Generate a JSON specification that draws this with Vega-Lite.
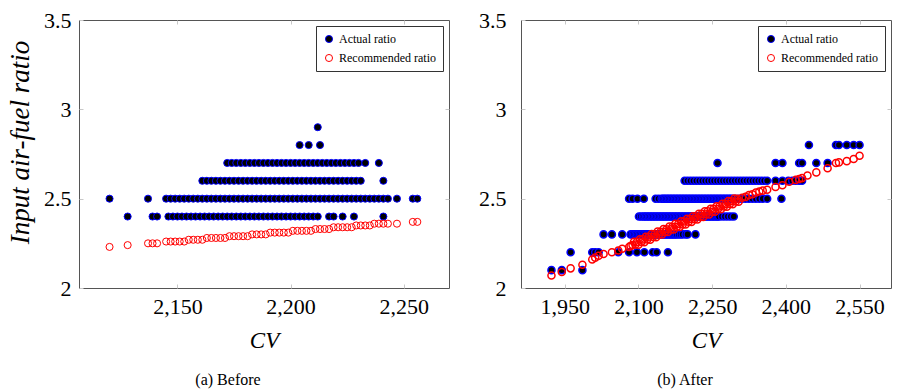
{
"$schema": "https://vega.github.io/schema/vega-lite/v6.json",
"background": "white",
"padding": {"left": 6, "top": 8, "right": 5, "bottom": 0},
"spacing": 28,
"config": {
  "view": {"stroke": "#555555", "strokeWidth": 1},
  "font": "Liberation Serif",
  "axis": {"labelFont": "Liberation Serif", "labelFontSize": 22, "labelColor": "#000000", "titleFont": "Liberation Serif", "titleFontSize": 23, "titleFontStyle": "italic", "titleFontWeight": "normal", "titleColor": "#000000", "domain": false, "grid": false, "tickColor": "#c8c8c8", "tickSize": -4, "labelPadding": 12, "labelFlush": false, "labelOverlap": false},
  "legend": {"orient": "top-right", "offset": 6, "title": null, "labelFont": "Liberation Serif", "labelFontSize": 12, "labelColor": "#000000", "strokeColor": "#333333", "fillColor": "#ffffff", "padding": 7, "symbolSize": 50, "symbolStrokeWidth": 1, "rowPadding": 7, "cornerRadius": 0, "symbolType": "circle"}
},
"resolve": {"scale": {"fill": "independent", "stroke": "independent"}, "legend": {"fill": "independent", "stroke": "independent"}},
"hconcat": [
{
 "width": 370, "height": 268,
 "title": {"text": "(a) Before", "orient": "bottom", "font": "Liberation Serif", "fontSize": 16, "fontWeight": "normal", "color": "#000000", "offset": 20, "frame": "bounds", "anchor": "middle"},
 "data": {"values": [
  {"x":2128,"y":2.4,"s":"A"},{"x":2139,"y":2.4,"s":"A"},{"x":2141,"y":2.4,"s":"A"},{"x":2146,"y":2.4,"s":"A"},{"x":2148,"y":2.4,"s":"A"},{"x":2150,"y":2.4,"s":"A"},{"x":2152,"y":2.4,"s":"A"},{"x":2154,"y":2.4,"s":"A"},{"x":2156,"y":2.4,"s":"A"},{"x":2158,"y":2.4,"s":"A"},{"x":2160,"y":2.4,"s":"A"},{"x":2162,"y":2.4,"s":"A"},{"x":2164,"y":2.4,"s":"A"},{"x":2166,"y":2.4,"s":"A"},{"x":2168,"y":2.4,"s":"A"},{"x":2170,"y":2.4,"s":"A"},{"x":2172,"y":2.4,"s":"A"},{"x":2174,"y":2.4,"s":"A"},{"x":2176,"y":2.4,"s":"A"},{"x":2178,"y":2.4,"s":"A"},{"x":2180,"y":2.4,"s":"A"},{"x":2182,"y":2.4,"s":"A"},{"x":2184,"y":2.4,"s":"A"},{"x":2186,"y":2.4,"s":"A"},{"x":2188,"y":2.4,"s":"A"},{"x":2190,"y":2.4,"s":"A"},{"x":2192,"y":2.4,"s":"A"},{"x":2194,"y":2.4,"s":"A"},{"x":2196,"y":2.4,"s":"A"},{"x":2198,"y":2.4,"s":"A"},{"x":2200,"y":2.4,"s":"A"},{"x":2202,"y":2.4,"s":"A"},{"x":2204,"y":2.4,"s":"A"},{"x":2206,"y":2.4,"s":"A"},{"x":2208,"y":2.4,"s":"A"},{"x":2210,"y":2.4,"s":"A"},{"x":2212,"y":2.4,"s":"A"},{"x":2217,"y":2.4,"s":"A"},{"x":2219,"y":2.4,"s":"A"},{"x":2223,"y":2.4,"s":"A"},{"x":2228,"y":2.4,"s":"A"},{"x":2241,"y":2.4,"s":"A"},
  {"x":2120,"y":2.5,"s":"A"},{"x":2137,"y":2.5,"s":"A"},{"x":2145,"y":2.5,"s":"A"},{"x":2147,"y":2.5,"s":"A"},{"x":2149,"y":2.5,"s":"A"},{"x":2151,"y":2.5,"s":"A"},{"x":2153,"y":2.5,"s":"A"},{"x":2155,"y":2.5,"s":"A"},{"x":2157,"y":2.5,"s":"A"},{"x":2159,"y":2.5,"s":"A"},{"x":2161,"y":2.5,"s":"A"},{"x":2163,"y":2.5,"s":"A"},{"x":2165,"y":2.5,"s":"A"},{"x":2167,"y":2.5,"s":"A"},{"x":2169,"y":2.5,"s":"A"},{"x":2171,"y":2.5,"s":"A"},{"x":2173,"y":2.5,"s":"A"},{"x":2175,"y":2.5,"s":"A"},{"x":2177,"y":2.5,"s":"A"},{"x":2179,"y":2.5,"s":"A"},{"x":2181,"y":2.5,"s":"A"},{"x":2183,"y":2.5,"s":"A"},{"x":2185,"y":2.5,"s":"A"},{"x":2187,"y":2.5,"s":"A"},{"x":2189,"y":2.5,"s":"A"},{"x":2191,"y":2.5,"s":"A"},{"x":2193,"y":2.5,"s":"A"},{"x":2195,"y":2.5,"s":"A"},{"x":2197,"y":2.5,"s":"A"},{"x":2199,"y":2.5,"s":"A"},{"x":2201,"y":2.5,"s":"A"},{"x":2203,"y":2.5,"s":"A"},{"x":2205,"y":2.5,"s":"A"},{"x":2207,"y":2.5,"s":"A"},{"x":2209,"y":2.5,"s":"A"},{"x":2211,"y":2.5,"s":"A"},{"x":2213,"y":2.5,"s":"A"},{"x":2215,"y":2.5,"s":"A"},{"x":2217,"y":2.5,"s":"A"},{"x":2219,"y":2.5,"s":"A"},{"x":2221,"y":2.5,"s":"A"},{"x":2223,"y":2.5,"s":"A"},{"x":2225,"y":2.5,"s":"A"},{"x":2227,"y":2.5,"s":"A"},{"x":2229,"y":2.5,"s":"A"},{"x":2231,"y":2.5,"s":"A"},{"x":2233,"y":2.5,"s":"A"},{"x":2235,"y":2.5,"s":"A"},{"x":2237,"y":2.5,"s":"A"},{"x":2239,"y":2.5,"s":"A"},{"x":2241,"y":2.5,"s":"A"},{"x":2243,"y":2.5,"s":"A"},{"x":2247,"y":2.5,"s":"A"},{"x":2254,"y":2.5,"s":"A"},{"x":2256,"y":2.5,"s":"A"},
  {"x":2161,"y":2.6,"s":"A"},{"x":2163,"y":2.6,"s":"A"},{"x":2165,"y":2.6,"s":"A"},{"x":2167,"y":2.6,"s":"A"},{"x":2169,"y":2.6,"s":"A"},{"x":2171,"y":2.6,"s":"A"},{"x":2173,"y":2.6,"s":"A"},{"x":2175,"y":2.6,"s":"A"},{"x":2177,"y":2.6,"s":"A"},{"x":2179,"y":2.6,"s":"A"},{"x":2181,"y":2.6,"s":"A"},{"x":2183,"y":2.6,"s":"A"},{"x":2185,"y":2.6,"s":"A"},{"x":2187,"y":2.6,"s":"A"},{"x":2189,"y":2.6,"s":"A"},{"x":2191,"y":2.6,"s":"A"},{"x":2193,"y":2.6,"s":"A"},{"x":2195,"y":2.6,"s":"A"},{"x":2197,"y":2.6,"s":"A"},{"x":2199,"y":2.6,"s":"A"},{"x":2201,"y":2.6,"s":"A"},{"x":2203,"y":2.6,"s":"A"},{"x":2205,"y":2.6,"s":"A"},{"x":2207,"y":2.6,"s":"A"},{"x":2209,"y":2.6,"s":"A"},{"x":2211,"y":2.6,"s":"A"},{"x":2213,"y":2.6,"s":"A"},{"x":2215,"y":2.6,"s":"A"},{"x":2217,"y":2.6,"s":"A"},{"x":2219,"y":2.6,"s":"A"},{"x":2221,"y":2.6,"s":"A"},{"x":2223,"y":2.6,"s":"A"},{"x":2225,"y":2.6,"s":"A"},{"x":2227,"y":2.6,"s":"A"},{"x":2229,"y":2.6,"s":"A"},{"x":2231,"y":2.6,"s":"A"},{"x":2241,"y":2.6,"s":"A"},
  {"x":2172,"y":2.7,"s":"A"},{"x":2174,"y":2.7,"s":"A"},{"x":2176,"y":2.7,"s":"A"},{"x":2178,"y":2.7,"s":"A"},{"x":2180,"y":2.7,"s":"A"},{"x":2182,"y":2.7,"s":"A"},{"x":2184,"y":2.7,"s":"A"},{"x":2186,"y":2.7,"s":"A"},{"x":2188,"y":2.7,"s":"A"},{"x":2190,"y":2.7,"s":"A"},{"x":2192,"y":2.7,"s":"A"},{"x":2194,"y":2.7,"s":"A"},{"x":2196,"y":2.7,"s":"A"},{"x":2198,"y":2.7,"s":"A"},{"x":2200,"y":2.7,"s":"A"},{"x":2202,"y":2.7,"s":"A"},{"x":2204,"y":2.7,"s":"A"},{"x":2206,"y":2.7,"s":"A"},{"x":2208,"y":2.7,"s":"A"},{"x":2210,"y":2.7,"s":"A"},{"x":2212,"y":2.7,"s":"A"},{"x":2214,"y":2.7,"s":"A"},{"x":2216,"y":2.7,"s":"A"},{"x":2218,"y":2.7,"s":"A"},{"x":2220,"y":2.7,"s":"A"},{"x":2222,"y":2.7,"s":"A"},{"x":2224,"y":2.7,"s":"A"},{"x":2226,"y":2.7,"s":"A"},{"x":2228,"y":2.7,"s":"A"},{"x":2230,"y":2.7,"s":"A"},{"x":2233,"y":2.7,"s":"A"},{"x":2239,"y":2.7,"s":"A"},
  {"x":2204,"y":2.8,"s":"A"},{"x":2208,"y":2.8,"s":"A"},{"x":2213,"y":2.8,"s":"A"},{"x":2212,"y":2.9,"s":"A"},
  {"x":2120,"y":2.23,"s":"R"},{"x":2128,"y":2.24,"s":"R"},{"x":2137,"y":2.25,"s":"R"},{"x":2139,"y":2.25,"s":"R"},{"x":2141,"y":2.25,"s":"R"},
  {"x":2145,"y":2.26,"s":"R"},{"x":2147,"y":2.26,"s":"R"},{"x":2149,"y":2.26,"s":"R"},{"x":2151,"y":2.26,"s":"R"},{"x":2153,"y":2.26,"s":"R"},
  {"x":2155,"y":2.27,"s":"R"},{"x":2157,"y":2.27,"s":"R"},{"x":2159,"y":2.27,"s":"R"},{"x":2161,"y":2.27,"s":"R"},
  {"x":2163,"y":2.28,"s":"R"},{"x":2165,"y":2.28,"s":"R"},{"x":2167,"y":2.28,"s":"R"},{"x":2169,"y":2.28,"s":"R"},{"x":2171,"y":2.28,"s":"R"},
  {"x":2173,"y":2.29,"s":"R"},{"x":2175,"y":2.29,"s":"R"},{"x":2177,"y":2.29,"s":"R"},{"x":2179,"y":2.29,"s":"R"},{"x":2181,"y":2.29,"s":"R"},
  {"x":2183,"y":2.30,"s":"R"},{"x":2185,"y":2.30,"s":"R"},{"x":2187,"y":2.30,"s":"R"},{"x":2189,"y":2.30,"s":"R"},
  {"x":2191,"y":2.31,"s":"R"},{"x":2193,"y":2.31,"s":"R"},{"x":2195,"y":2.31,"s":"R"},{"x":2197,"y":2.31,"s":"R"},{"x":2199,"y":2.31,"s":"R"},
  {"x":2201,"y":2.32,"s":"R"},{"x":2203,"y":2.32,"s":"R"},{"x":2205,"y":2.32,"s":"R"},{"x":2207,"y":2.32,"s":"R"},{"x":2209,"y":2.32,"s":"R"},
  {"x":2211,"y":2.33,"s":"R"},{"x":2213,"y":2.33,"s":"R"},{"x":2215,"y":2.33,"s":"R"},{"x":2217,"y":2.33,"s":"R"},
  {"x":2219,"y":2.34,"s":"R"},{"x":2221,"y":2.34,"s":"R"},{"x":2223,"y":2.34,"s":"R"},{"x":2225,"y":2.34,"s":"R"},{"x":2227,"y":2.34,"s":"R"},
  {"x":2229,"y":2.35,"s":"R"},{"x":2231,"y":2.35,"s":"R"},{"x":2233,"y":2.35,"s":"R"},{"x":2235,"y":2.35,"s":"R"},
  {"x":2237,"y":2.36,"s":"R"},{"x":2239,"y":2.36,"s":"R"},{"x":2241,"y":2.36,"s":"R"},{"x":2243,"y":2.36,"s":"R"},{"x":2247,"y":2.36,"s":"R"},{"x":2254,"y":2.37,"s":"R"},{"x":2256,"y":2.37,"s":"R"}
 ]},
 "layer": [
  {"mark": {"type": "point", "shape": "circle", "filled": true, "size": 50, "strokeWidth": 1, "opacity": 1},
   "encoding": {
    "x": {"field": "x", "type": "quantitative", "scale": {"domain": [2106.5, 2270], "nice": false, "zero": false}, "axis": {"values": [2150, 2200, 2250], "format": ",d", "title": "CV", "titlePadding": 12}},
    "y": {"field": "y", "type": "quantitative", "scale": {"domain": [2, 3.5], "nice": false, "zero": false}, "axis": {"values": [2, 2.5, 3, 3.5], "format": "~g", "title": "Input air-fuel ratio", "titleFontSize": 27, "titleY": 122, "titlePadding": 9}},
    "fill": {"field": "s", "type": "nominal", "scale": {"domain": ["A", "R"], "range": ["#000000", "transparent"]}, "legend": {"labelExpr": "datum.label == 'A' ? 'Actual ratio' : 'Recommended ratio'"}},
    "stroke": {"field": "s", "type": "nominal", "scale": {"domain": ["A", "R"], "range": ["#0000ff", "#ff0000"]}, "legend": {"labelExpr": "datum.label == 'A' ? 'Actual ratio' : 'Recommended ratio'"}}
   }},
  {"data": {"values": [{"x": 2200, "y": 2.5}]},
   "mark": {"type": "point", "opacity": 0},
   "encoding": {
    "x": {"field": "x", "type": "quantitative", "scale": {"domain": [2106.5, 2270], "nice": false, "zero": false}, "axis": {"orient": "top", "values": [2150, 2200, 2250], "labels": false, "title": null}},
    "y": {"field": "y", "type": "quantitative", "scale": {"domain": [2, 3.5], "nice": false, "zero": false}, "axis": {"orient": "right", "values": [2.5, 3], "labels": false, "title": null}}
   }}
 ],
 "resolve": {"axis": {"x": "independent", "y": "independent"}}
},
{
 "width": 370, "height": 268,
 "title": {"text": "(b) After", "orient": "bottom", "font": "Liberation Serif", "fontSize": 16, "fontWeight": "normal", "color": "#000000", "offset": 20, "frame": "bounds", "anchor": "middle"},
 "data": {"values": [
  {"x":1923,"y":2.1,"s":"A"},{"x":1944,"y":2.1,"s":"A"},{"x":1986,"y":2.1,"s":"A"},
  {"x":1962,"y":2.2,"s":"A"},{"x":2006,"y":2.2,"s":"A"},{"x":2012,"y":2.2,"s":"A"},{"x":2019,"y":2.2,"s":"A"},{"x":2059,"y":2.2,"s":"A"},{"x":2081,"y":2.2,"s":"A"},{"x":2097,"y":2.2,"s":"A"},{"x":2112,"y":2.2,"s":"A"},{"x":2129,"y":2.2,"s":"A"},{"x":2137,"y":2.2,"s":"A"},{"x":2160,"y":2.2,"s":"A"},
  {"x":2029,"y":2.3,"s":"A"},{"x":2046,"y":2.3,"s":"A"},{"x":2067,"y":2.3,"s":"A"},{"x":2084,"y":2.3,"s":"A"},{"x":2088,"y":2.3,"s":"A"},{"x":2091,"y":2.3,"s":"A"},{"x":2094,"y":2.3,"s":"A"},{"x":2097,"y":2.3,"s":"A"},{"x":2100,"y":2.3,"s":"A"},{"x":2103,"y":2.3,"s":"A"},{"x":2106,"y":2.3,"s":"A"},{"x":2109,"y":2.3,"s":"A"},{"x":2112,"y":2.3,"s":"A"},{"x":2115,"y":2.3,"s":"A"},{"x":2118,"y":2.3,"s":"A"},{"x":2121,"y":2.3,"s":"A"},{"x":2124,"y":2.3,"s":"A"},{"x":2127,"y":2.3,"s":"A"},{"x":2130,"y":2.3,"s":"A"},{"x":2133,"y":2.3,"s":"A"},{"x":2136,"y":2.3,"s":"A"},{"x":2139,"y":2.3,"s":"A"},{"x":2142,"y":2.3,"s":"A"},{"x":2145,"y":2.3,"s":"A"},{"x":2148,"y":2.3,"s":"A"},{"x":2151,"y":2.3,"s":"A"},{"x":2154,"y":2.3,"s":"A"},{"x":2157,"y":2.3,"s":"A"},{"x":2160,"y":2.3,"s":"A"},{"x":2163,"y":2.3,"s":"A"},{"x":2166,"y":2.3,"s":"A"},{"x":2169,"y":2.3,"s":"A"},{"x":2172,"y":2.3,"s":"A"},{"x":2175,"y":2.3,"s":"A"},{"x":2178,"y":2.3,"s":"A"},{"x":2182,"y":2.3,"s":"A"},{"x":2186,"y":2.3,"s":"A"},{"x":2190,"y":2.3,"s":"A"},{"x":2196,"y":2.3,"s":"A"},{"x":2200,"y":2.3,"s":"A"},{"x":2216,"y":2.3,"s":"A"},
  {"x":2101,"y":2.4,"s":"A"},{"x":2105,"y":2.4,"s":"A"},{"x":2109,"y":2.4,"s":"A"},{"x":2112,"y":2.4,"s":"A"},{"x":2115,"y":2.4,"s":"A"},{"x":2118,"y":2.4,"s":"A"},{"x":2121,"y":2.4,"s":"A"},{"x":2124,"y":2.4,"s":"A"},{"x":2127,"y":2.4,"s":"A"},{"x":2130,"y":2.4,"s":"A"},{"x":2133,"y":2.4,"s":"A"},{"x":2136,"y":2.4,"s":"A"},{"x":2139,"y":2.4,"s":"A"},{"x":2142,"y":2.4,"s":"A"},{"x":2145,"y":2.4,"s":"A"},{"x":2148,"y":2.4,"s":"A"},{"x":2151,"y":2.4,"s":"A"},{"x":2154,"y":2.4,"s":"A"},{"x":2157,"y":2.4,"s":"A"},{"x":2160,"y":2.4,"s":"A"},{"x":2163,"y":2.4,"s":"A"},{"x":2166,"y":2.4,"s":"A"},{"x":2169,"y":2.4,"s":"A"},{"x":2172,"y":2.4,"s":"A"},{"x":2175,"y":2.4,"s":"A"},{"x":2178,"y":2.4,"s":"A"},{"x":2181,"y":2.4,"s":"A"},{"x":2184,"y":2.4,"s":"A"},{"x":2187,"y":2.4,"s":"A"},{"x":2190,"y":2.4,"s":"A"},{"x":2193,"y":2.4,"s":"A"},{"x":2196,"y":2.4,"s":"A"},{"x":2199,"y":2.4,"s":"A"},{"x":2202,"y":2.4,"s":"A"},{"x":2205,"y":2.4,"s":"A"},{"x":2208,"y":2.4,"s":"A"},{"x":2211,"y":2.4,"s":"A"},{"x":2214,"y":2.4,"s":"A"},{"x":2217,"y":2.4,"s":"A"},{"x":2220,"y":2.4,"s":"A"},{"x":2223,"y":2.4,"s":"A"},{"x":2226,"y":2.4,"s":"A"},{"x":2229,"y":2.4,"s":"A"},{"x":2232,"y":2.4,"s":"A"},{"x":2235,"y":2.4,"s":"A"},{"x":2238,"y":2.4,"s":"A"},{"x":2241,"y":2.4,"s":"A"},{"x":2244,"y":2.4,"s":"A"},{"x":2247,"y":2.4,"s":"A"},{"x":2250,"y":2.4,"s":"A"},{"x":2253,"y":2.4,"s":"A"},{"x":2256,"y":2.4,"s":"A"},{"x":2259,"y":2.4,"s":"A"},{"x":2262,"y":2.4,"s":"A"},{"x":2264,"y":2.4,"s":"A"},{"x":2270,"y":2.4,"s":"A"},{"x":2276,"y":2.4,"s":"A"},{"x":2282,"y":2.4,"s":"A"},{"x":2288,"y":2.4,"s":"A"},{"x":2294,"y":2.4,"s":"A"},
  {"x":2081,"y":2.5,"s":"A"},{"x":2088,"y":2.5,"s":"A"},{"x":2098,"y":2.5,"s":"A"},{"x":2111,"y":2.5,"s":"A"},{"x":2135,"y":2.5,"s":"A"},{"x":2141,"y":2.5,"s":"A"},{"x":2147,"y":2.5,"s":"A"},{"x":2150,"y":2.5,"s":"A"},{"x":2153,"y":2.5,"s":"A"},{"x":2156,"y":2.5,"s":"A"},{"x":2159,"y":2.5,"s":"A"},{"x":2162,"y":2.5,"s":"A"},{"x":2165,"y":2.5,"s":"A"},{"x":2168,"y":2.5,"s":"A"},{"x":2171,"y":2.5,"s":"A"},{"x":2174,"y":2.5,"s":"A"},{"x":2177,"y":2.5,"s":"A"},{"x":2180,"y":2.5,"s":"A"},{"x":2183,"y":2.5,"s":"A"},{"x":2186,"y":2.5,"s":"A"},{"x":2189,"y":2.5,"s":"A"},{"x":2192,"y":2.5,"s":"A"},{"x":2195,"y":2.5,"s":"A"},{"x":2198,"y":2.5,"s":"A"},{"x":2201,"y":2.5,"s":"A"},{"x":2204,"y":2.5,"s":"A"},{"x":2207,"y":2.5,"s":"A"},{"x":2210,"y":2.5,"s":"A"},{"x":2213,"y":2.5,"s":"A"},{"x":2216,"y":2.5,"s":"A"},{"x":2219,"y":2.5,"s":"A"},{"x":2222,"y":2.5,"s":"A"},{"x":2225,"y":2.5,"s":"A"},{"x":2228,"y":2.5,"s":"A"},{"x":2231,"y":2.5,"s":"A"},{"x":2234,"y":2.5,"s":"A"},{"x":2237,"y":2.5,"s":"A"},{"x":2240,"y":2.5,"s":"A"},{"x":2243,"y":2.5,"s":"A"},{"x":2246,"y":2.5,"s":"A"},{"x":2249,"y":2.5,"s":"A"},{"x":2252,"y":2.5,"s":"A"},{"x":2255,"y":2.5,"s":"A"},{"x":2258,"y":2.5,"s":"A"},{"x":2261,"y":2.5,"s":"A"},{"x":2264,"y":2.5,"s":"A"},{"x":2267,"y":2.5,"s":"A"},{"x":2270,"y":2.5,"s":"A"},{"x":2273,"y":2.5,"s":"A"},{"x":2276,"y":2.5,"s":"A"},{"x":2279,"y":2.5,"s":"A"},{"x":2282,"y":2.5,"s":"A"},{"x":2285,"y":2.5,"s":"A"},{"x":2288,"y":2.5,"s":"A"},{"x":2291,"y":2.5,"s":"A"},{"x":2297,"y":2.5,"s":"A"},{"x":2304,"y":2.5,"s":"A"},{"x":2311,"y":2.5,"s":"A"},{"x":2318,"y":2.5,"s":"A"},{"x":2325,"y":2.5,"s":"A"},{"x":2332,"y":2.5,"s":"A"},{"x":2339,"y":2.5,"s":"A"},{"x":2346,"y":2.5,"s":"A"},{"x":2353,"y":2.5,"s":"A"},{"x":2362,"y":2.5,"s":"A"},{"x":2391,"y":2.5,"s":"A"},
  {"x":2194,"y":2.6,"s":"A"},{"x":2200,"y":2.6,"s":"A"},{"x":2206,"y":2.6,"s":"A"},{"x":2212,"y":2.6,"s":"A"},{"x":2218,"y":2.6,"s":"A"},{"x":2224,"y":2.6,"s":"A"},{"x":2230,"y":2.6,"s":"A"},{"x":2236,"y":2.6,"s":"A"},{"x":2242,"y":2.6,"s":"A"},{"x":2248,"y":2.6,"s":"A"},{"x":2254,"y":2.6,"s":"A"},{"x":2260,"y":2.6,"s":"A"},{"x":2266,"y":2.6,"s":"A"},{"x":2272,"y":2.6,"s":"A"},{"x":2278,"y":2.6,"s":"A"},{"x":2284,"y":2.6,"s":"A"},{"x":2290,"y":2.6,"s":"A"},{"x":2296,"y":2.6,"s":"A"},{"x":2302,"y":2.6,"s":"A"},{"x":2308,"y":2.6,"s":"A"},{"x":2314,"y":2.6,"s":"A"},{"x":2320,"y":2.6,"s":"A"},{"x":2326,"y":2.6,"s":"A"},{"x":2332,"y":2.6,"s":"A"},{"x":2338,"y":2.6,"s":"A"},{"x":2344,"y":2.6,"s":"A"},{"x":2350,"y":2.6,"s":"A"},{"x":2356,"y":2.6,"s":"A"},{"x":2362,"y":2.6,"s":"A"},{"x":2379,"y":2.6,"s":"A"},{"x":2393,"y":2.6,"s":"A"},{"x":2405,"y":2.6,"s":"A"},{"x":2413,"y":2.6,"s":"A"},{"x":2420,"y":2.6,"s":"A"},{"x":2427,"y":2.6,"s":"A"},{"x":2433,"y":2.6,"s":"A"},
  {"x":2261,"y":2.7,"s":"A"},{"x":2379,"y":2.7,"s":"A"},{"x":2393,"y":2.7,"s":"A"},{"x":2427,"y":2.7,"s":"A"},{"x":2433,"y":2.7,"s":"A"},{"x":2462,"y":2.7,"s":"A"},{"x":2485,"y":2.7,"s":"A"},
  {"x":2447,"y":2.8,"s":"A"},{"x":2502,"y":2.8,"s":"A"},{"x":2508,"y":2.8,"s":"A"},{"x":2524,"y":2.8,"s":"A"},{"x":2538,"y":2.8,"s":"A"},{"x":2550,"y":2.8,"s":"A"},
  {"x":1923,"y":2.07,"s":"R"},{"x":1944,"y":2.09,"s":"R"},{"x":1962,"y":2.11,"s":"R"},{"x":1986,"y":2.13,"s":"R"},{"x":2006,"y":2.16,"s":"R"},{"x":2012,"y":2.17,"s":"R"},{"x":2019,"y":2.18,"s":"R"},{"x":2029,"y":2.19,"s":"R"},{"x":2046,"y":2.2,"s":"R"},{"x":2059,"y":2.21,"s":"R"},{"x":2067,"y":2.22,"s":"R"},{"x":2081,"y":2.23,"s":"R"},{"x":2084,"y":2.235,"s":"R"},{"x":2088,"y":2.24,"s":"R"},
  {"x":2091,"y":2.259,"s":"R"},{"x":2094,"y":2.243,"s":"R"},{"x":2097,"y":2.258,"s":"R"},{"x":2100,"y":2.242,"s":"R"},{"x":2103,"y":2.273,"s":"R"},{"x":2106,"y":2.257,"s":"R"},{"x":2109,"y":2.272,"s":"R"},{"x":2112,"y":2.256,"s":"R"},{"x":2115,"y":2.287,"s":"R"},{"x":2118,"y":2.271,"s":"R"},{"x":2121,"y":2.287,"s":"R"},{"x":2124,"y":2.27,"s":"R"},{"x":2127,"y":2.302,"s":"R"},{"x":2130,"y":2.285,"s":"R"},{"x":2133,"y":2.301,"s":"R"},{"x":2136,"y":2.284,"s":"R"},{"x":2139,"y":2.316,"s":"R"},{"x":2142,"y":2.299,"s":"R"},{"x":2145,"y":2.315,"s":"R"},{"x":2148,"y":2.299,"s":"R"},{"x":2151,"y":2.33,"s":"R"},{"x":2154,"y":2.314,"s":"R"},{"x":2157,"y":2.329,"s":"R"},{"x":2160,"y":2.313,"s":"R"},{"x":2163,"y":2.344,"s":"R"},{"x":2166,"y":2.328,"s":"R"},{"x":2169,"y":2.343,"s":"R"},{"x":2172,"y":2.327,"s":"R"},{"x":2175,"y":2.359,"s":"R"},{"x":2178,"y":2.342,"s":"R"},{"x":2181,"y":2.358,"s":"R"},{"x":2184,"y":2.341,"s":"R"},{"x":2187,"y":2.373,"s":"R"},{"x":2190,"y":2.356,"s":"R"},{"x":2193,"y":2.372,"s":"R"},{"x":2196,"y":2.355,"s":"R"},{"x":2199,"y":2.387,"s":"R"},{"x":2202,"y":2.371,"s":"R"},{"x":2205,"y":2.386,"s":"R"},{"x":2208,"y":2.37,"s":"R"},{"x":2211,"y":2.401,"s":"R"},{"x":2214,"y":2.385,"s":"R"},{"x":2217,"y":2.4,"s":"R"},{"x":2220,"y":2.384,"s":"R"},{"x":2223,"y":2.415,"s":"R"},{"x":2226,"y":2.399,"s":"R"},{"x":2229,"y":2.415,"s":"R"},{"x":2232,"y":2.398,"s":"R"},{"x":2235,"y":2.43,"s":"R"},{"x":2238,"y":2.413,"s":"R"},{"x":2241,"y":2.429,"s":"R"},{"x":2244,"y":2.412,"s":"R"},{"x":2247,"y":2.444,"s":"R"},{"x":2250,"y":2.427,"s":"R"},{"x":2253,"y":2.443,"s":"R"},{"x":2256,"y":2.427,"s":"R"},{"x":2259,"y":2.458,"s":"R"},{"x":2262,"y":2.442,"s":"R"},{"x":2265,"y":2.457,"s":"R"},{"x":2268,"y":2.441,"s":"R"},{"x":2271,"y":2.472,"s":"R"},{"x":2274,"y":2.456,"s":"R"},{"x":2277,"y":2.471,"s":"R"},{"x":2280,"y":2.455,"s":"R"},{"x":2283,"y":2.487,"s":"R"},{"x":2286,"y":2.47,"s":"R"},{"x":2289,"y":2.486,"s":"R"},{"x":2292,"y":2.469,"s":"R"},{"x":2295,"y":2.501,"s":"R"},{"x":2298,"y":2.484,"s":"R"},{"x":2301,"y":2.5,"s":"R"},{"x":2304,"y":2.483,"s":"R"},
  {"x":2311,"y":2.505,"s":"R"},{"x":2318,"y":2.51,"s":"R"},{"x":2325,"y":2.52,"s":"R"},{"x":2332,"y":2.525,"s":"R"},{"x":2339,"y":2.535,"s":"R"},{"x":2346,"y":2.54,"s":"R"},{"x":2353,"y":2.545,"s":"R"},{"x":2362,"y":2.55,"s":"R"},{"x":2379,"y":2.565,"s":"R"},{"x":2393,"y":2.575,"s":"R"},{"x":2407,"y":2.595,"s":"R"},{"x":2420,"y":2.605,"s":"R"},{"x":2427,"y":2.61,"s":"R"},{"x":2433,"y":2.615,"s":"R"},{"x":2444,"y":2.63,"s":"R"},{"x":2462,"y":2.647,"s":"R"},{"x":2485,"y":2.67,"s":"R"},{"x":2502,"y":2.7,"s":"R"},{"x":2508,"y":2.703,"s":"R"},{"x":2524,"y":2.71,"s":"R"},{"x":2538,"y":2.722,"s":"R"},{"x":2550,"y":2.74,"s":"R"}
 ]},
 "layer": [
  {"mark": {"type": "point", "shape": "circle", "filled": true, "size": 50, "strokeWidth": 1.5, "opacity": 1},
   "encoding": {
    "x": {"field": "x", "type": "quantitative", "scale": {"domain": [1861, 2614], "nice": false, "zero": false}, "axis": {"values": [1950, 2100, 2250, 2400, 2550], "format": ",d", "title": "CV", "titlePadding": 12}},
    "y": {"field": "y", "type": "quantitative", "scale": {"domain": [2, 3.5], "nice": false, "zero": false}, "axis": {"values": [2, 2.5, 3, 3.5], "format": "~g", "title": null, "labelPadding": 19}},
    "fill": {"field": "s", "type": "nominal", "scale": {"domain": ["A", "R"], "range": ["#000000", "transparent"]}, "legend": {"labelExpr": "datum.label == 'A' ? 'Actual ratio' : 'Recommended ratio'", "symbolStrokeWidth": 1}},
    "stroke": {"field": "s", "type": "nominal", "scale": {"domain": ["A", "R"], "range": ["#0000ff", "#ff0000"]}, "legend": {"labelExpr": "datum.label == 'A' ? 'Actual ratio' : 'Recommended ratio'", "symbolStrokeWidth": 1}}
   }},
  {"data": {"values": [{"x": 2250, "y": 2.5}]},
   "mark": {"type": "point", "opacity": 0},
   "encoding": {
    "x": {"field": "x", "type": "quantitative", "scale": {"domain": [1861, 2614], "nice": false, "zero": false}, "axis": {"orient": "top", "values": [1950, 2100, 2250, 2400, 2550], "labels": false, "title": null}},
    "y": {"field": "y", "type": "quantitative", "scale": {"domain": [2, 3.5], "nice": false, "zero": false}, "axis": {"orient": "right", "values": [2.5, 3], "labels": false, "title": null}}
   }}
 ],
 "resolve": {"axis": {"x": "independent", "y": "independent"}}
}
]
}
